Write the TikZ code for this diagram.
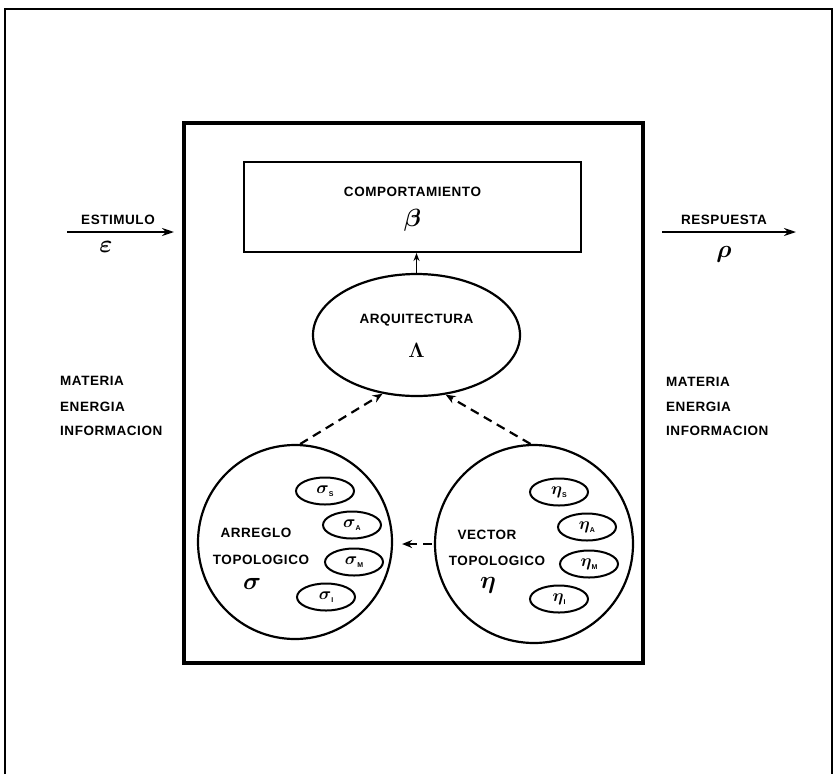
\documentclass[tikz,border=0pt]{standalone}
\usepackage{fontspec}
\usepackage{bm}
\newfontfamily\lab[LetterSpace=4]{Liberation Sans}
\usetikzlibrary{shapes.geometric,arrows.meta}
\newcommand\gsub[2]{{\fontsize{18}{18}\selectfont$\bm{#1}$}\raisebox{-3pt}{\lab\bfseries\fontsize{7}{7}\selectfont #2}}
\begin{document}
\begin{tikzpicture}[x=1pt,y=-1pt,
  lbl/.style={font=\lab\bfseries\fontsize{13.5}{15}\selectfont, inner sep=0},
  gk/.style={inner sep=0},
  sm/.style={ellipse, draw, line width=2pt, minimum width=58pt, minimum height=27pt, inner sep=0},
  big/.style={circle, draw, line width=2.2pt, inner sep=0},
  dsh/.style={line width=2.2pt, dash pattern=on 9pt off 6pt, -{Stealth[length=10pt,width=8pt]}},
  io/.style={line width=2pt, -{Stealth[length=12pt,width=8pt]}}]
\useasboundingbox (0,0) rectangle (837,774);
% outer frame (open at the bottom)
\draw[line width=2.4pt] (5,774) -- (5,9) -- (832,9) -- (832,774);
% system box
\node[draw, line width=3.4pt, minimum width=459pt, minimum height=540pt, inner sep=0] (sys) at (413.5,393) {};
% behaviour box
\node[draw, line width=2pt, minimum width=337pt, minimum height=90pt, inner sep=0] (comp) at (412.5,207) {};
\node[lbl] (compt) at (412.5,192) {COMPORTAMIENTO};
\node[gk] (beta) at (412.5,220) {\fontsize{27}{27}\selectfont$\bm{\beta}$};
% architecture
\node[ellipse, draw, line width=2.2pt, minimum width=207pt, minimum height=122pt, inner sep=0] (arq) at (416.5,335) {};
\node[lbl] (arqt) at (416.5,320) {ARQUITECTURA};
\node[gk] (lam) at (416.5,350) {\fontsize{20}{20}\selectfont$\bm{\Lambda}$};
\draw[line width=1.5pt, -{Stealth[length=8pt,width=6pt]}] (arq.north) -- (arq.north |- comp.south);
% left circle
\node[big, minimum size=194pt] (lc) at (295,542) {};
\node[lbl] (arr) at (256,533) {ARREGLO};
\node[lbl] (topl) at (261,560) {TOPOLOGICO};
\node[gk] (sig) at (252,584) {\fontsize{23}{23}\selectfont$\bm{\sigma}$};
\node[sm] (ss) at (325,491) {\gsub{\sigma}{S}};
\node[sm] (sa) at (352,525) {\gsub{\sigma}{A}};
\node[sm] (sm) at (354,562) {\gsub{\sigma}{M}};
\node[sm] (si) at (326,597) {\gsub{\sigma}{I}};
% right circle
\node[big, minimum size=198pt] (rc) at (534,544) {};
\node[lbl] (vec) at (487,535) {VECTOR};
\node[lbl] (topr) at (497,561) {TOPOLOGICO};
\node[gk] (eta) at (488,585) {\fontsize{25}{25}\selectfont$\bm{\eta}$};
\node[sm] (es) at (559,492) {\gsub{\eta}{S}};
\node[sm] (ea) at (587,527) {\gsub{\eta}{A}};
\node[sm] (em) at (589,564) {\gsub{\eta}{M}};
\node[sm] (ei) at (559,599) {\gsub{\eta}{I}};
% dashed relations
\draw[dsh] (lc.87) -- (arq.240);
\draw[dsh] (rc.92) -- (arq.296);
\draw[dsh, shorten >=9pt, shorten <=2pt] (rc.west) -- (rc.west -| lc.east);
% input
\coordinate (ein) at (67,232);
\coordinate (eout) at (174,232);
\draw[io] (ein) -- (eout);
\node[lbl] (est) at (118,220) {ESTIMULO};
\node[gk] (eps) at (106,247) {\fontsize{36}{36}\selectfont$\bm{\varepsilon}$};
% output
\coordinate (rin) at (662,232);
\coordinate (rout) at (796,232);
\draw[io] (rin) -- (rout);
\node[lbl] (resp) at (724,220) {RESPUESTA};
\node[gk] (rho) at (724,254) {\fontsize{34}{34}\selectfont$\bm{\rho}$};
% side texts
\node[lbl, anchor=west] (lm) at (60,381) {MATERIA};
\node[lbl, anchor=west] (le) at (60,407) {ENERGIA};
\node[lbl, anchor=west] (li) at (60,431) {INFORMACION};
\node[lbl, anchor=west] (rm) at (666,382) {MATERIA};
\node[lbl, anchor=west] (re) at (666,407) {ENERGIA};
\node[lbl, anchor=west] (ri) at (666,431) {INFORMACION};
\end{tikzpicture}
\end{document}
